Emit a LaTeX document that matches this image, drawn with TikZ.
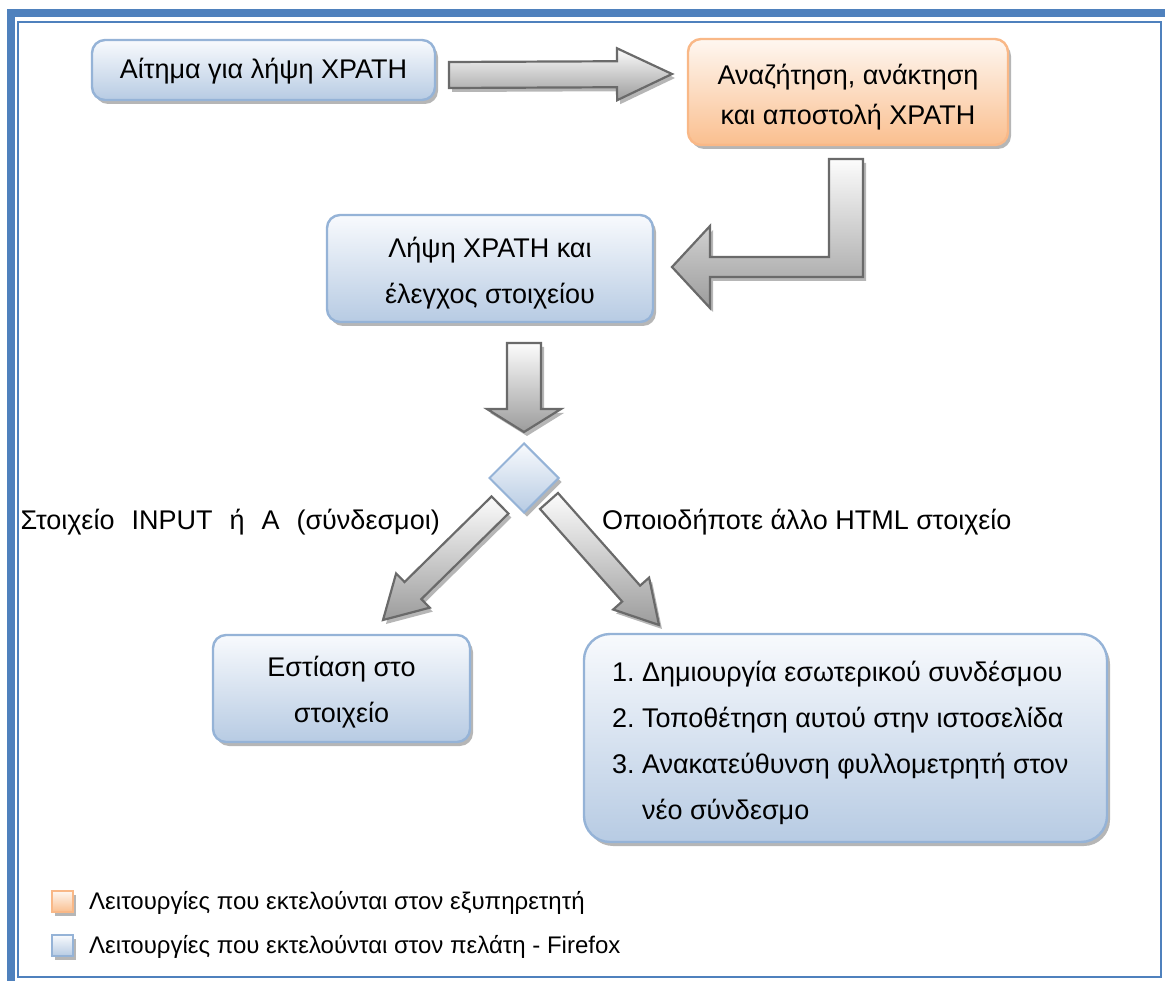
\documentclass[tikz,border=0pt]{standalone}
\usepackage{fontspec}
\setmainfont{Liberation Sans}
\usetikzlibrary{calc,shapes.geometric}

\definecolor{frameblue}{HTML}{4F81BD}
\definecolor{boxline}{HTML}{95B3D7}
\definecolor{boxtop}{HTML}{F8FAFD}
\definecolor{boxbot}{HTML}{B7CBE3}
\definecolor{orline}{HTML}{F9B887}
\definecolor{ortop}{HTML}{FEF7F1}
\definecolor{orbot}{HTML}{FABF8F}
\definecolor{arrline}{HTML}{6A6A6A}
\definecolor{arrtop}{HTML}{FCFCFC}
\definecolor{arrbot}{HTML}{9C9C9C}
\definecolor{shadowgray}{HTML}{9E9E9E}

\tikzset{
  softshadow/.style={preaction={fill=shadowgray, opacity=0.75,
      transform canvas={shift={(3pt,-4pt)}}}},
  bluebox/.style={rectangle, rounded corners=13pt, draw=boxline, line width=2.4pt,
      top color=boxtop, bottom color=boxbot, softshadow, inner sep=0pt},
  orangebox/.style={bluebox, draw=orline, top color=ortop, bottom color=orbot},
  boxtext/.style={inner sep=0pt, align=center, font=\fontsize{27}{46}\selectfont},
  arrowshape/.style={draw=arrline, line width=2.2pt, line join=miter,
      top color=arrtop, bottom color=arrbot, softshadow},
  decision/.style={diamond, aspect=1, minimum width=70pt, minimum height=70pt,
      inner sep=0pt, draw=boxline, line width=2pt,
      top color=boxtop, bottom color=boxbot, softshadow},
  branchlabel/.style={inner sep=0pt, font=\fontsize{27}{30}\selectfont},
  legendkey/.style={rectangle, minimum width=21pt, minimum height=21pt, inner sep=0pt,
      line width=1.5pt, softshadow},
  legendtext/.style={inner sep=0pt, anchor=west, font=\fontsize{24}{28}\selectfont}
}

% straight block arrow: tail, tip, half shaft width, half head width, head length
\newcommand\blockarrow[5]{%
  \coordinate (ba-q) at ($(#2)!#5!(#1)$);
  \path[arrowshape]
    ($(#1)!#3!90:(#2)$) -- ($(ba-q)!#3!90:(#2)$) -- ($(ba-q)!#4!90:(#2)$) -- (#2)
    -- ($(ba-q)!#4!-90:(#2)$) -- ($(ba-q)!#3!-90:(#2)$) -- ($(#1)!#3!-90:(#2)$) -- cycle;}

\begin{document}
\frenchspacing
\begin{tikzpicture}[x=1pt,y=-1pt]
\useasboundingbox (0,0) rectangle (1165,981);

% page border: thick outer line and thin inner line
\draw[frameblue, line width=8pt] (11,13) rectangle (1200,1010);
\draw[frameblue, line width=2.6pt] (18,22) rectangle (1161,977);

% process boxes
\node[bluebox, minimum width=343pt, minimum height=60pt] (req) at (263.5,70) {};
\node[boxtext] (reqtxt) at ($(req.center)+(0,1)$) {Αίτημα για λήψη XPATH};

\node[orangebox, minimum width=320pt, minimum height=106pt] (srv) at (848,92) {};
\node[boxtext, font=\fontsize{27}{40}\selectfont] (srvtxt) at ($(srv.center)+(0,5)$)
  {Αναζήτηση, ανάκτηση\\και αποστολή XPATH};

\node[bluebox, minimum width=326pt, minimum height=107pt] (get) at (490,268.5) {};
\node[boxtext] (gettxt) at ($(get.center)+(0,5)$) {Λήψη XPATH και\\έλεγχος στοιχείου};

\node[decision] (dec) at (524,478) {};

\node[bluebox, minimum width=257pt, minimum height=107pt] (focus) at (341.5,688.5) {};
\node[boxtext] (focustxt) at ($(focus.center)+(0,4)$) {Εστίαση στο\\στοιχείο};

\node[bluebox, rounded corners=26pt, minimum width=523pt, minimum height=208pt]
  (link) at (845.5,738) {};
\node[boxtext, align=left, anchor=west] (linktxt) at ($(link.west)+(29,5)$)
  {1. Δημιουργία εσωτερικού συνδέσμου\\
   2. Τοποθέτηση αυτού στην ιστοσελίδα\\
   3. Ανακατεύθυνση φυλλομετρητή στον\\
   \hphantom{3.\ }νέο σύνδεσμο};

% block arrows between the steps
\coordinate (a1t) at (449,75);  \coordinate (a1h) at (672,74);
\blockarrow{a1t}{a1h}{13pt}{26pt}{55pt}

\coordinate (bA) at (829,159); \coordinate (bB) at (863,159);
\coordinate (bC) at (863,277); \coordinate (bD) at (710,277);
\coordinate (bE) at (710,308); \coordinate (bTip) at (672,267);
\coordinate (bF) at (710,226); \coordinate (bG) at (710,257);
\coordinate (bH) at (829,257);
\path[arrowshape] (bA) -- (bB) -- (bC) -- (bD) -- (bE) -- (bTip) -- (bF) -- (bG) -- (bH) -- cycle;

\coordinate (a3t) at (524,343); \coordinate (a3h) at (524,432);
\blockarrow{a3t}{a3h}{17pt}{37pt}{23pt}

\coordinate (a4t) at (500,505); \coordinate (a4h) at (383,620);
\blockarrow{a4t}{a4h}{12pt}{24pt}{42pt}

\coordinate (a5t) at (549,501); \coordinate (a5h) at (659,625);
\blockarrow{a5t}{a5h}{12pt}{24pt}{42pt}

% branch labels (the left one is set with wide word gaps)
\node[branchlabel, anchor=east] (lbl1) at (440,522)
  {Στοιχείο\hspace{17pt}INPUT\hspace{17pt}ή\hspace{17pt}A\hspace{17pt}(σύνδεσμοι)};
\node[branchlabel, anchor=west] (lbl2) at (602,522) {Οποιοδήποτε άλλο HTML στοιχείο};

% legend
\node[legendkey, draw=orline, top color=ortop, bottom color=orbot] (keysrv) at (62.5,901.5) {};
\node[legendtext] (txtsrv) at (89,903) {Λειτουργίες που εκτελούνται στον εξυπηρετητή};
\node[legendkey, draw=boxline, top color=boxtop, bottom color=boxbot] (keycli) at (62.5,945.5) {};
\node[legendtext] (txtcli) at (89,947) {Λειτουργίες που εκτελούνται στον πελάτη - Firefox};
\end{tikzpicture}
\end{document}
